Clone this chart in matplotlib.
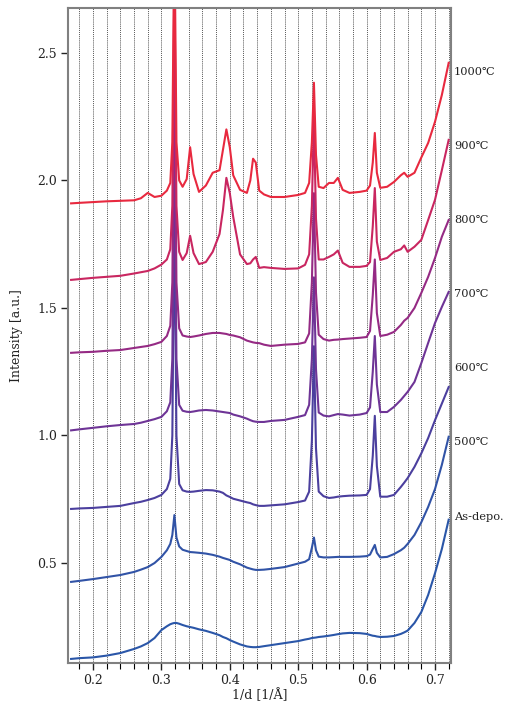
import numpy as np
import matplotlib
matplotlib.use("Agg")
import matplotlib.pyplot as plt

# shared 1/d grid [1/A]
inv_d = [0.168, 0.18, 0.20, 0.22, 0.24, 0.26, 0.27, 0.28, 0.29, 0.30,
         0.308, 0.313, 0.316, 0.319, 0.322, 0.326, 0.331, 0.337, 0.342, 0.347,
         0.355, 0.365, 0.375, 0.385, 0.390, 0.395, 0.400, 0.405, 0.415, 0.425,
         0.430, 0.434, 0.438, 0.443, 0.45, 0.46, 0.48, 0.50, 0.51, 0.516,
         0.520, 0.523, 0.526, 0.530, 0.537, 0.545, 0.552, 0.558, 0.565, 0.575,
         0.59, 0.60, 0.605, 0.609, 0.612, 0.615, 0.62, 0.63, 0.64, 0.65,
         0.655, 0.66, 0.67, 0.68, 0.69, 0.70, 0.71, 0.72]

int_asdepo = [0.124, 0.127, 0.130, 0.137, 0.147, 0.163, 0.173, 0.186, 0.206, 0.237,
              0.252, 0.260, 0.263, 0.265, 0.265, 0.262, 0.257, 0.252, 0.249, 0.246,
              0.240, 0.234, 0.226, 0.217, 0.210, 0.205, 0.198, 0.192, 0.181, 0.173,
              0.171, 0.170, 0.170, 0.171, 0.174, 0.178, 0.186, 0.194, 0.200, 0.203,
              0.206, 0.207, 0.208, 0.210, 0.212, 0.215, 0.218, 0.221, 0.224, 0.226,
              0.225, 0.222, 0.218, 0.215, 0.214, 0.212, 0.210, 0.211, 0.214, 0.222,
              0.228, 0.235, 0.265, 0.308, 0.375, 0.460, 0.555, 0.670]

int_500 = [0.426, 0.430, 0.437, 0.445, 0.453, 0.465, 0.474, 0.484, 0.500, 0.524,
           0.550, 0.575, 0.610, 0.688, 0.600, 0.565, 0.552, 0.547, 0.543, 0.542,
           0.540, 0.537, 0.532, 0.525, 0.520, 0.516, 0.512, 0.505, 0.495, 0.482,
           0.478, 0.475, 0.473, 0.473, 0.474, 0.477, 0.484, 0.498, 0.505, 0.515,
           0.560, 0.600, 0.550, 0.525, 0.522, 0.522, 0.523, 0.524, 0.524, 0.524,
           0.525, 0.527, 0.533, 0.555, 0.571, 0.540, 0.522, 0.524, 0.535, 0.550,
           0.560, 0.575, 0.610, 0.660, 0.720, 0.790, 0.885, 0.995]

int_600 = [0.712, 0.714, 0.716, 0.720, 0.724, 0.735, 0.740, 0.747, 0.755, 0.767,
           0.790, 0.830, 1.000, 1.900, 1.000, 0.810, 0.785, 0.780, 0.779, 0.780,
           0.783, 0.786, 0.785, 0.780, 0.775, 0.765, 0.759, 0.752, 0.745, 0.738,
           0.735, 0.730, 0.727, 0.724, 0.724, 0.726, 0.730, 0.739, 0.745, 0.780,
           0.980, 1.350, 0.950, 0.780, 0.762, 0.755, 0.757, 0.760, 0.762, 0.764,
           0.765, 0.767, 0.790, 0.920, 1.077, 0.880, 0.760, 0.760, 0.767, 0.798,
           0.815, 0.833, 0.877, 0.930, 0.990, 1.060, 1.125, 1.190]

int_700 = [1.020, 1.024, 1.030, 1.036, 1.041, 1.045, 1.050, 1.057, 1.064, 1.073,
           1.095, 1.130, 1.300, 2.200, 1.300, 1.120, 1.097, 1.093, 1.092, 1.094,
           1.098, 1.100, 1.098, 1.094, 1.092, 1.090, 1.088, 1.082, 1.075, 1.066,
           1.060, 1.056, 1.054, 1.053, 1.053, 1.057, 1.061, 1.073, 1.080, 1.120,
           1.300, 1.620, 1.260, 1.090, 1.078, 1.075, 1.080, 1.084, 1.082, 1.078,
           1.082, 1.088, 1.110, 1.250, 1.390, 1.200, 1.092, 1.092, 1.112, 1.139,
           1.155, 1.171, 1.210, 1.284, 1.363, 1.441, 1.504, 1.563]

int_800 = [1.324, 1.326, 1.328, 1.332, 1.335, 1.343, 1.347, 1.351, 1.358, 1.367,
           1.390, 1.430, 1.600, 2.500, 1.600, 1.420, 1.392, 1.388, 1.386, 1.388,
           1.392, 1.398, 1.402, 1.402, 1.400, 1.398, 1.394, 1.392, 1.385, 1.372,
           1.368, 1.365, 1.363, 1.362, 1.356, 1.351, 1.356, 1.359, 1.365, 1.400,
           1.600, 1.950, 1.560, 1.395, 1.378, 1.372, 1.375, 1.376, 1.378, 1.380,
           1.383, 1.386, 1.410, 1.550, 1.690, 1.480, 1.390, 1.395, 1.406, 1.433,
           1.450, 1.461, 1.500, 1.559, 1.622, 1.696, 1.779, 1.845]

int_900 = [1.610, 1.613, 1.618, 1.622, 1.626, 1.635, 1.640, 1.645, 1.655, 1.670,
           1.690, 1.730, 1.900, 2.800, 1.900, 1.720, 1.688, 1.715, 1.783, 1.715,
           1.672, 1.680, 1.720, 1.790, 1.884, 2.010, 1.950, 1.857, 1.710, 1.672,
           1.675, 1.690, 1.700, 1.657, 1.660, 1.657, 1.653, 1.655, 1.669, 1.710,
           1.900, 2.250, 1.850, 1.690, 1.690, 1.700, 1.710, 1.725, 1.677, 1.661,
           1.661, 1.665, 1.680, 1.820, 1.970, 1.760, 1.688, 1.696, 1.720, 1.730,
           1.745, 1.720, 1.740, 1.767, 1.845, 1.924, 2.040, 2.159]

int_1000 = [1.910, 1.912, 1.915, 1.918, 1.920, 1.922, 1.930, 1.951, 1.935, 1.940,
            1.960, 1.990, 2.150, 3.000, 2.150, 2.000, 1.975, 2.005, 2.130, 2.025,
            1.955, 1.980, 2.030, 2.040, 2.120, 2.200, 2.130, 2.020, 1.963, 1.951,
            2.000, 2.085, 2.070, 1.960, 1.945, 1.935, 1.935, 1.943, 1.951, 1.990,
            2.150, 2.383, 2.100, 1.975, 1.970, 1.990, 1.990, 2.010, 1.963, 1.951,
            1.955, 1.960, 1.980, 2.070, 2.186, 2.030, 1.971, 1.975, 1.994, 2.020,
            2.030, 2.014, 2.030, 2.090, 2.147, 2.230, 2.335, 2.461]

labels = ["As-depo.", "500\u2103", "600\u2103", "700\u2103", "800\u2103", "900\u2103", "1000\u2103"]
series = [int_asdepo, int_500, int_600, int_700, int_800, int_900, int_1000]
colors = ["#2a56a8", "#3153a6", "#4b3f9e", "#6e3496", "#952a84", "#c92660", "#e8293f"]
label_y = [0.681, 0.975, 1.265, 1.555, 1.846, 2.136, 2.426]

serif = ["DejaVu Serif", "DejaVu Sans"]
plt.rcParams["font.family"] = serif

fig = plt.figure(figsize=(5.05, 7.06), dpi=100)
ax = fig.add_axes([0.1347, 0.0609, 0.7584, 0.9278])

# dotted guide lines every 0.02
for xv in np.arange(0.18, 0.7201, 0.02):
    ax.axvline(xv, color="#222222", lw=0.6, ls=(0, (1, 1.3)), zorder=1)

for ys, c in zip(series, colors):
    ax.plot(inv_d, ys, color=c, lw=1.5, zorder=2)

for lab, yv in zip(labels, label_y):
    ax.text(1.008, yv, lab, transform=ax.get_yaxis_transform(), fontsize=8.2,
            va="center", ha="left", color="#222222", clip_on=False)

ax.set_xlim(0.1635, 0.7234)
ax.set_ylim(0.108, 2.676)
ax.set_xticks([0.2, 0.3, 0.4, 0.5, 0.6, 0.7])
ax.set_xticks(np.arange(0.18, 0.7201, 0.02), minor=True)
ax.set_yticks([0.5, 1.0, 1.5, 2.0, 2.5])
ax.tick_params(axis="both", which="major", direction="out", length=5,
               width=1, labelsize=9, colors="#222222", pad=3)
ax.tick_params(axis="x", which="minor", direction="out", length=4, width=0.8)
ax.set_xlabel("1/d [1/\u00c5]", fontsize=9, color="#222222", labelpad=1)
ax.set_ylabel("Intensity [a.u.]", fontsize=9, color="#222222", labelpad=10)
for sp in ax.spines.values():
    sp.set_color("#808080")
    sp.set_linewidth(1.5)

fig.savefig("out.png", dpi=100)
